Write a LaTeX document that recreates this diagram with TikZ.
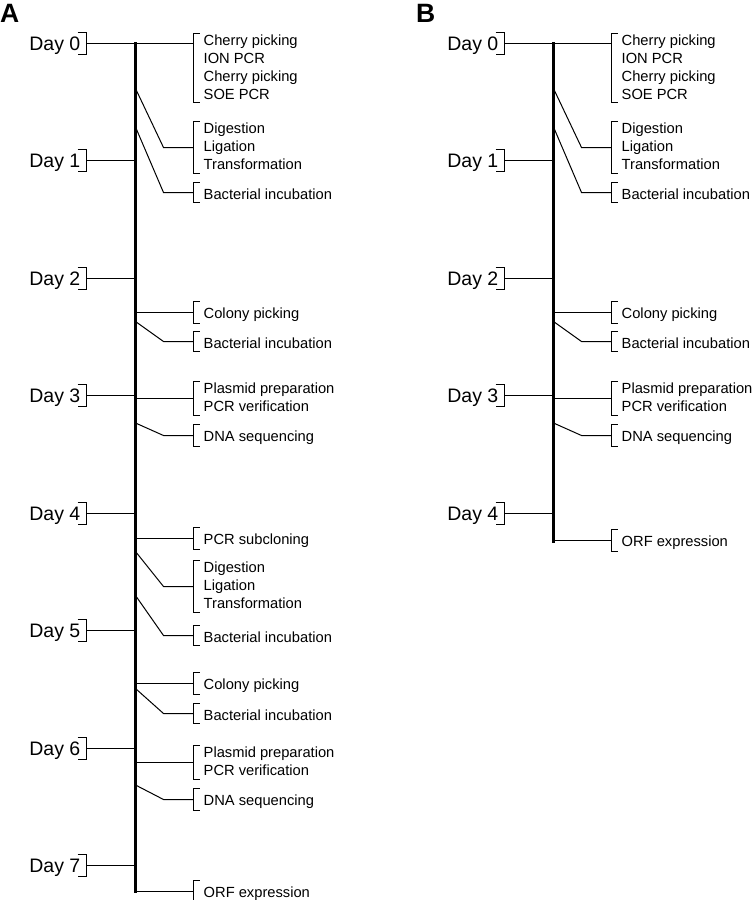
\documentclass[tikz,border=0pt]{standalone}
\usepackage{fontspec}
\setmainfont{Liberation Sans}
\usetikzlibrary{positioning,calc}

\newcommand{\daytext}{\fontsize{19.5}{23}\selectfont}
\newcommand{\tasktext}{\fontsize{14.7}{18}\selectfont}

\tikzset{
  timeaxis/.style={line width=3pt},
  link/.style={line width=1pt},
  leftbracket/.style={draw,line width=1pt,to path={([xshift=6pt]\tikztostart) -- (\tikztostart) -- (\tikztotarget) -- ([xshift=6pt]\tikztotarget)}},
  rightbracket/.style={draw,line width=1pt,to path={([xshift=-9pt]\tikztostart) -- (\tikztostart) -- (\tikztotarget) -- ([xshift=-9pt]\tikztotarget)}},
  daynode/.style={anchor=east,font=\daytext,inner xsep=6pt,inner ysep=0pt,minimum height=22pt,text height=14pt,text depth=0pt,append after command={(\tikzlastnode.north east) edge[rightbracket] (\tikzlastnode.south east)}},
  tasknode/.style={anchor=west,align=left,font=\tasktext,inner xsep=10pt,inner ysep=1pt,execute at begin node={\rule{0pt}{15.75pt}},execute at end node={\rule[-2.25pt]{0pt}{2.25pt}},append after command={(\tikzlastnode.north west) edge[leftbracket] (\tikzlastnode.south west)}},
  panellabel/.style={anchor=base west,font=\fontsize{26.5}{30}\selectfont\bfseries,inner sep=0pt}
}

\begin{document}
\begin{tikzpicture}[x=1pt,y=-1pt]
\useasboundingbox (0,0) rectangle (752,900);

% panel A
\node[panellabel] (labA) at (0,22) {A};
\coordinate (topA) at (135.5,42);
\coordinate (botA) at (135.5,893);
\draw[timeaxis] (topA) -- (botA);

\node[daynode] (a0) at (86.5,43.5) {Day 0};
\node[daynode] (a1) at (86.5,160.5) {Day 1};
\node[daynode] (a2) at (86.5,278.5) {Day 2};
\node[daynode] (a3) at (86.5,395.5) {Day 3};
\node[daynode] (a4) at (86.5,513.5) {Day 4};
\node[daynode] (a5) at (86.5,630.5) {Day 5};
\node[daynode] (a6) at (86.5,748.5) {Day 6};
\node[daynode] (a7) at (86.5,865.5) {Day 7};

\node[tasknode,anchor=north west] (at1) at (193.5,33.5) {Cherry picking\\ION PCR\\Cherry picking\\SOE PCR};
\node[tasknode] (at2) at (193.5,147.5) {Digestion\\Ligation\\Transformation};
\node[tasknode] (at3) at (193.5,192.5) {Bacterial incubation};
\node[tasknode] (at4) at (193.5,312.5) {Colony picking};
\node[tasknode] (at5) at (193.5,341.5) {Bacterial incubation};
\node[tasknode] (at6) at (193.5,398.5) {Plasmid preparation\\PCR verification};
\node[tasknode] (at7) at (193.5,435.5) {DNA sequencing};
\node[tasknode] (at8) at (193.5,538.5) {PCR subcloning};
\node[tasknode] (at9) at (193.5,586.5) {Digestion\\Ligation\\Transformation};
\node[tasknode] (at10) at (193.5,635.5) {Bacterial incubation};
\node[tasknode] (at11) at (193.5,683.5) {Colony picking};
\node[tasknode] (at12) at (193.5,713.5) {Bacterial incubation};
\node[tasknode] (at13) at (193.5,762.5) {Plasmid preparation\\PCR verification};
\node[tasknode] (at14) at (193.5,799.5) {DNA sequencing};
\node[tasknode] (at15) at (193.5,891.5) {ORF expression};

\draw[link] (a0.east) -- (at1.west |- a0.east);
\foreach \d in {a1,a2,a3,a4,a5,a6,a7}
  \draw[link] (\d.east) -- (\d.east -| topA);
\foreach \t in {at4,at6,at8,at11,at13,at15}
  \draw[link] (\t.west -| topA) -- (\t.west);
\foreach \t/\s in {at2/59,at3/65.5,at5/20,at7/12.5,at9/35,at10/40,at12/25,at14/14.5}
  \draw[link] (\t.west -| topA) ++(0,-\s) -- ([xshift=-30pt]\t.west) -- (\t.west);

% panel B
\node[panellabel] (labB) at (416,22) {B};
\coordinate (topB) at (553.5,42);
\coordinate (botB) at (553.5,543);
\draw[timeaxis] (topB) -- (botB);

\node[daynode] (b0) at (504.5,43.5) {Day 0};
\node[daynode] (b1) at (504.5,160.5) {Day 1};
\node[daynode] (b2) at (504.5,278.5) {Day 2};
\node[daynode] (b3) at (504.5,395.5) {Day 3};
\node[daynode] (b4) at (504.5,513.5) {Day 4};

\node[tasknode,anchor=north west] (bt1) at (611.5,33.5) {Cherry picking\\ION PCR\\Cherry picking\\SOE PCR};
\node[tasknode] (bt2) at (611.5,147.5) {Digestion\\Ligation\\Transformation};
\node[tasknode] (bt3) at (611.5,192.5) {Bacterial incubation};
\node[tasknode] (bt4) at (611.5,312.5) {Colony picking};
\node[tasknode] (bt5) at (611.5,341.5) {Bacterial incubation};
\node[tasknode] (bt6) at (611.5,398.5) {Plasmid preparation\\PCR verification};
\node[tasknode] (bt7) at (611.5,435.5) {DNA sequencing};
\node[tasknode] (bt8) at (611.5,540.5) {ORF expression};

\draw[link] (b0.east) -- (bt1.west |- b0.east);
\foreach \d in {b1,b2,b3,b4}
  \draw[link] (\d.east) -- (\d.east -| topB);
\foreach \t in {bt4,bt6,bt8}
  \draw[link] (\t.west -| topB) -- (\t.west);
\foreach \t/\s in {bt2/59,bt3/65.5,bt5/20,bt7/12.5}
  \draw[link] (\t.west -| topB) ++(0,-\s) -- ([xshift=-30pt]\t.west) -- (\t.west);
\end{tikzpicture}
\end{document}
